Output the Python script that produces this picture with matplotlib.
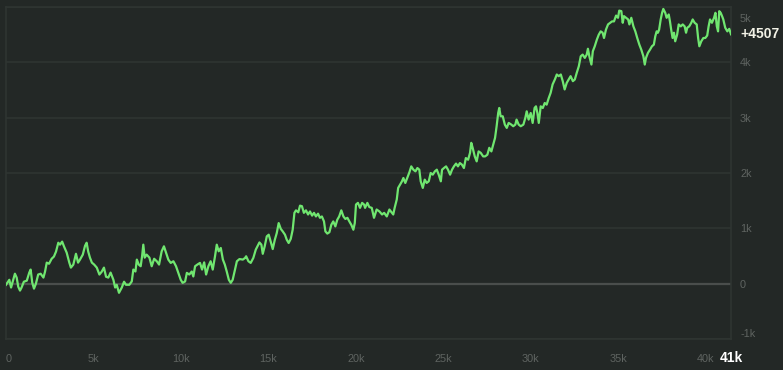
import matplotlib.pyplot as plt
from matplotlib.transforms import ScaledTranslation

# bet number (x) and running profit (y)
steps = [
    0, 190, 290, 380, 510, 610, 700, 800, 890, 1020,
    1190, 1330, 1410, 1500, 1600, 1710, 1840, 1980, 2140, 2230,
    2330, 2460, 2610, 2740, 2860, 2990, 3090, 3210, 3320, 3470,
    3620, 3710, 3850, 4000, 4120, 4230, 4390, 4520, 4610, 4700,
    4800, 4910, 5040, 5190, 5340, 5470, 5600, 5720, 5850, 5980,
    6140, 6240, 6330, 6460, 6620, 6750, 6860, 7050, 7190, 7280,
    7400, 7480, 7590, 7700, 7780, 7850, 7930, 8040, 8200, 8330,
    8470, 8620, 8750, 8900, 9030, 9150, 9280, 9420, 9570, 9720,
    9850, 9990, 10100, 10240, 10340, 10480, 10620, 10710, 10810, 10940,
    11090, 11210, 11330, 11440, 11570, 11700, 11820, 11950, 12050, 12160,
    12280, 12400, 12510, 12620, 12740, 12850, 12960, 13090, 13200, 13350,
    13540, 13670, 13730, 13860, 13990, 14140, 14280, 14380, 14490, 14600,
    14680, 14790, 14910, 15020, 15130, 15250, 15370, 15480, 15590, 15710,
    15820, 15950, 16050, 16160, 16280, 16390, 16490, 16580, 16710, 16810,
    16920, 17030, 17150, 17270, 17380, 17500, 17610, 17720, 17840, 17950,
    18060, 18180, 18260, 18370, 18490, 18600, 18710, 18830, 18940, 19050,
    19170, 19290, 19400, 19520, 19630, 19740, 19860, 19940, 20010, 20120,
    20240, 20360, 20470, 20530, 20660, 20770, 20910, 21040, 21190, 21350,
    21500, 21620, 21770, 21920, 22070, 22140, 22220, 22340, 22420, 22530,
    22640, 22720, 22830, 22940, 23060, 23170, 23290, 23410, 23520, 23630,
    23710, 23830, 23940, 24050, 24170, 24280, 24400, 24520, 24630, 24740,
    24860, 24930, 25040, 25160, 25270, 25390, 25500, 25610, 25730, 25840,
    25950, 26070, 26180, 26290, 26420, 26530, 26600, 26680, 26800, 26910,
    27020, 27140, 27280, 27390, 27520, 27630, 27750, 27860, 27960, 28050,
    28140, 28200, 28280, 28400, 28520, 28630, 28740, 28890, 29000, 29120,
    29190, 29310, 29430, 29580, 29690, 29770, 29880, 30000, 30110, 30220,
    30300, 30380, 30460, 30570, 30690, 30800, 30910, 31030, 31140, 31250,
    31380, 31490, 31600, 31720, 31830, 31940, 32060, 32170, 32280, 32410,
    32520, 32630, 32750, 32860, 32970, 33090, 33200, 33270, 33350, 33470,
    33550, 33660, 33780, 33890, 34000, 34110, 34190, 34300, 34420, 34540,
    34650, 34760, 34880, 34990, 35060, 35180, 35260, 35330, 35450, 35570,
    35640, 35750, 35870, 35980, 36090, 36210, 36320, 36440, 36520, 36590,
    36700, 36820, 36930, 37040, 37120, 37200, 37270, 37340, 37430, 37510,
    37580, 37690, 37770, 37890, 37960, 38030, 38110, 38190, 38260, 38370,
    38460, 38580, 38690, 38800, 38880, 38950, 39060, 39180, 39260, 39370,
    39490, 39570, 39640, 39750, 39870, 39980, 40090, 40170, 40250, 40360,
    40480, 40560, 40640, 40710, 40780, 40860, 40940, 41010, 41120, 41240,
    41350, 41450,
]
profit = [
    -20, 70, -70, 35, 180, 110, -55, -125, -70, 35,
    55, 200, 255, 20, -90, 0, 165, 180, 110, 215,
    380, 360, 450, 490, 580, 740, 705, 760, 670, 560,
    380, 290, 345, 540, 380, 435, 525, 685, 740, 580,
    470, 380, 345, 290, 165, 215, 290, 125, 110, 200,
    70, -70, -20, -165, -70, 35, -20, -20, 40, 255,
    220, 435, 345, 315, 495, 705, 470, 525, 470, 315,
    450, 405, 345, 585, 675, 560, 435, 375, 405, 315,
    195, 70, 15, 40, 195, 165, 220, 130, 315, 345,
    375, 255, 385, 165, 315, 405, 255, 495, 705, 585,
    645, 435, 345, 220, 70, 15, 70, 255, 405, 445,
    435, 465, 495, 405, 375, 465, 615, 675, 745, 705,
    540, 675, 855, 885, 765, 625, 795, 915, 1095, 990,
    945, 885, 795, 735, 810, 975, 1280, 1325, 1290, 1410,
    1400, 1280, 1325, 1250, 1305, 1230, 1280, 1215, 1265, 1190,
    1215, 1125, 945, 905, 930, 1065, 1125, 1035, 1155, 1215,
    1325, 1215, 1170, 1190, 1125, 1065, 975, 1095, 1430, 1460,
    1370, 1460, 1430, 1370, 1460, 1385, 1370, 1190, 1340, 1305,
    1250, 1280, 1215, 1340, 1280, 1250, 1370, 1520, 1730, 1790,
    1850, 1910, 1820, 1910, 2010, 2120, 2060, 2030, 2090, 2060,
    1850, 1730, 1880, 1820, 1850, 2000, 1970, 2030, 2060, 1970,
    1850, 2060, 2090, 2120, 2060, 1970, 2060, 2120, 2170, 2120,
    2180, 2150, 2090, 2270, 2240, 2365, 2545, 2455, 2300, 2210,
    2390, 2365, 2300, 2300, 2330, 2455, 2390, 2515, 2635, 2845,
    3085, 3175, 3025, 3025, 2875, 2815, 2905, 2875, 2845, 2875,
    2965, 2875, 2845, 2875, 2995, 3115, 2965, 3085, 2905, 3175,
    3205, 3085, 2905, 3205, 3175, 3265, 3235, 3355, 3450, 3600,
    3690, 3780, 3750, 3780, 3660, 3510, 3630, 3690, 3750, 3660,
    3690, 3810, 3930, 4110, 4140, 4080, 4140, 4245, 4110, 3960,
    4200, 4290, 4410, 4500, 4560, 4535, 4440, 4590, 4685, 4715,
    4740, 4740, 4845, 4805, 4935, 4925, 4715, 4835, 4805, 4775,
    4685, 4805, 4650, 4560, 4440, 4320, 4230, 4110, 3960, 4080,
    4170, 4230, 4290, 4320, 4470, 4560, 4535, 4590, 4775, 4895,
    4965, 4895, 4805, 4865, 4740, 4590, 4440, 4535, 4380, 4500,
    4685, 4650, 4685, 4650, 4535, 4625, 4650, 4715, 4775, 4715,
    4685, 4440, 4290, 4380, 4440, 4440, 4485, 4650, 4775, 4715,
    4805, 4895, 4650, 4560, 4925, 4895, 4835, 4775, 4625, 4560,
    4605, 4507,
]

x_ticks = [0, 5000, 10000, 15000, 20000, 25000, 30000, 35000, 40000]
x_labels = ["0", "5k", "10k", "15k", "20k", "25k", "30k", "35k", "40k"]
y_ticks = [-1000, 0, 1000, 2000, 3000, 4000, 5000]
y_labels = ["-1k", "0", "1k", "2k", "3k", "4k", "5k"]

bg = "#232826"
grid_col = "#2f3532"
tick_col = "#5f6461"
green = "#70e670"

plt.rcParams["font.family"] = ["Liberation Sans", "DejaVu Sans"]

fig = plt.figure(figsize=(7.83, 3.70), dpi=100, facecolor=bg)
ax = fig.add_axes([6 / 783, 31 / 370, 725 / 783, 332 / 370])
ax.set_facecolor(bg)

# the profit line
ax.plot(steps, profit, color=green, lw=1.6, zorder=3)

ax.set_xlim(0, steps[-1])
ax.set_ylim(-1000, 5000)

# grid + brighter zero line
ax.set_yticks(y_ticks, y_labels)
ax.set_xticks(x_ticks, x_labels)
ax.grid(axis="y", color=grid_col, lw=1.2)
ax.axhline(0, color="#4a4e4c", lw=1.6, zorder=2)
for s in ax.spines.values():
    s.set_color(grid_col)
    s.set_linewidth(1.2)

ax.yaxis.tick_right()
ax.tick_params(axis="both", length=0, colors=tick_col, labelsize=7.8)
ax.tick_params(axis="y", pad=6.5)
ax.tick_params(axis="x", pad=11)

# keep the end labels inside the frame, like the original
ylabs = ax.get_yticklabels()
ylabs[0].set_va("bottom")
ylabs[-1].set_va("top")
ylabs[-1].set_transform(ylabs[-1].get_transform() + ScaledTranslation(0, -5 / 72, fig.dpi_scale_trans))
xlabs = ax.get_xticklabels()
xlabs[0].set_ha("left")

# current values
ax.annotate("+%d" % profit[-1], xy=(1, profit[-1]), xycoords=("axes fraction", "data"),
            xytext=(7, 0), textcoords="offset points", ha="left", va="center",
            color="#f2f2e6", fontsize=10, fontweight="bold")
ax.annotate("%dk" % (steps[-1] // 1000), xy=(steps[-1], 0), xycoords=("data", "axes fraction"),
            xytext=(0, -19), textcoords="offset pixels", ha="center", va="center",
            color="#ffffff", fontsize=10, fontweight="bold")

fig.savefig("out.png", dpi=100, facecolor=bg)
